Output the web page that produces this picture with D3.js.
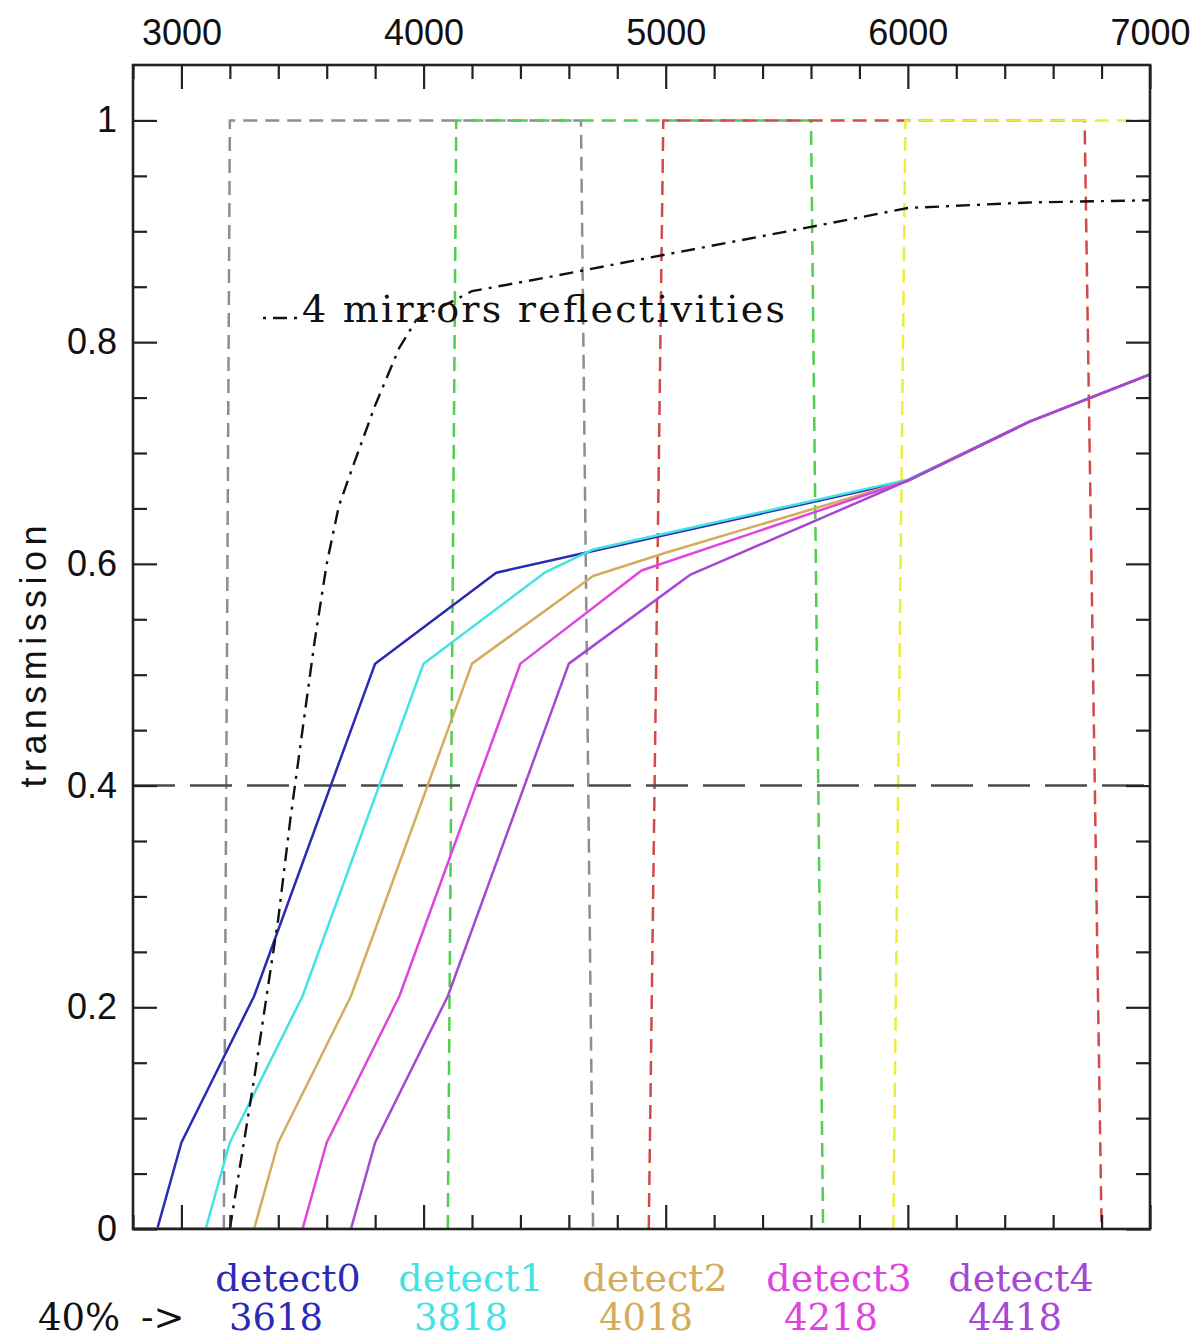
<!DOCTYPE html>
<html>
<head>
<meta charset="utf-8">
<script src="https://cdn.jsdelivr.net/npm/d3@7"></script>
<style>
  html, body { margin: 0; padding: 0; background: #fff; }
  svg { display: block; }
</style>
</head>
<body>
<svg id="chart" width="1198" height="1341"></svg>
<script>
// ---- wavelength axis (Angstrom) ----
const xMajorTicks = [3000, 4000, 5000, 6000, 7000];
const yMajorTicks = [0, 0.2, 0.4, 0.6, 0.8, 1];

// ---- filter bandpasses: wavelength at foot, top, top, foot ----
const filterEdges = [
  [3175, 3200, 4650, 4700],
  [4100, 4135, 5600, 5650],
  [4930, 4990, 6730, 6800],
  [5940, 5990, 7300, 7350]
];
const filterColors = ["#8e8e8e", "#4fcf4f", "#d24a4a", "#eded40"];

// ---- threshold level ----
const threshold = 0.4;

// ---- reflectivity of the 4 mirrors ----
const mirrorWave = [3200, 3300, 3400, 3450, 3500, 3550, 3600, 3650, 3700, 3800, 3900, 3970, 4200, 4500, 5000, 5600, 6000, 6500, 7000];
const mirrorRefl = [0, 0.135, 0.28, 0.37, 0.45, 0.53, 0.60, 0.652, 0.683, 0.743, 0.795, 0.82, 0.846, 0.858, 0.879, 0.904, 0.921, 0.926, 0.928];

// ---- total transmission for each detector ----
const detectNames = ["detect0", "detect1", "detect2", "detect3", "detect4"];
const detectAt40 = ["3618", "3818", "4018", "4218", "4418"];
const detectColors = ["#2a2ab4", "#44e2e2", "#d4ac5c", "#e044e0", "#a448d4"];
const detectWave = [
  [2800, 2900, 3000, 3300, 3800, 4300, 6000, 6500, 7000],
  [2800, 3100, 3200, 3500, 4000, 4500, 4700, 6000, 6500, 7000],
  [2800, 3300, 3400, 3700, 4200, 4700, 5000, 6000, 6500, 7000],
  [2800, 3500, 3600, 3900, 4400, 4900, 6000, 6500, 7000],
  [2800, 3700, 3800, 4100, 4600, 5100, 6000, 6500, 7000]
];
const detectTrans = [
  [0, 0, 0.078, 0.21, 0.51, 0.592, 0.675, 0.728, 0.771],
  [0, 0, 0.078, 0.21, 0.51, 0.592, 0.613, 0.676, 0.728, 0.771],
  [0, 0, 0.078, 0.21, 0.51, 0.589, 0.61, 0.675, 0.728, 0.771],
  [0, 0, 0.078, 0.21, 0.51, 0.594, 0.675, 0.728, 0.771],
  [0, 0, 0.078, 0.21, 0.51, 0.59, 0.675, 0.728, 0.771]
];

// ---- geometry ----
const L = 133, R = 1150, T = 65, B = 1229;
const svg = d3.select("#chart");
const x = d3.scaleLinear().domain([2800, 7000]).range([L, R]);
const y = d3.scaleLinear().domain([0, 1.05]).range([B, T]);

const xMinorTicks = d3.range(2800, 7001, 200).filter(v => v % 1000 !== 0);
const yMinorTicks = d3.range(0, 21).map(i => i * 0.05).filter(v => Math.abs(v * 5 - Math.round(v * 5)) > 1e-6);

const sansFont = "'Liberation Sans', Arial, Helvetica, sans-serif";
const serifFont = "'DejaVu Serif', 'Liberation Serif', serif";

svg.append("defs").append("clipPath").attr("id", "plotClip")
  .append("rect").attr("x", L).attr("y", T).attr("width", R - L).attr("height", B - T);

const plot = svg.append("g").attr("clip-path", "url(#plotClip)");
const line = d3.line().x(d => x(d[0])).y(d => y(d[1]));

// filter boxes
filterEdges.forEach((e, i) => {
  const pts = [[e[0], 0], [e[1], 1], [e[2], 1], [e[3], 0]];
  plot.append("path")
    .attr("d", line(pts))
    .attr("fill", "none")
    .attr("stroke", filterColors[i])
    .attr("stroke-width", 2.5)
    .attr("stroke-dasharray", "14,8");
});

// 40% level
plot.append("path")
  .attr("d", line([[2800, threshold], [7000, threshold]]))
  .attr("fill", "none")
  .attr("stroke", "#4a4a4a")
  .attr("stroke-width", 2.6)
  .attr("stroke-dasharray", "42,15");

// detector transmission curves
detectWave.forEach((w, i) => {
  const pts = w.map((v, j) => [v, detectTrans[i][j]]);
  plot.append("path")
    .attr("d", line(pts))
    .attr("fill", "none")
    .attr("stroke", detectColors[i])
    .attr("stroke-width", 2.5)
    .attr("stroke-linejoin", "round");
});

// mirror reflectivity (dash-dot)
const mirrorDash = "14,7,3,7";
plot.append("path")
  .attr("d", line(mirrorWave.map((v, j) => [v, mirrorRefl[j]])))
  .attr("fill", "none")
  .attr("stroke", "#111")
  .attr("stroke-width", 2.4)
  .attr("stroke-dasharray", mirrorDash);

// curve label with a dash-dot sample
svg.append("line")
  .attr("x1", 263).attr("x2", 297).attr("y1", 318).attr("y2", 318)
  .attr("stroke", "#111").attr("stroke-width", 2.4)
  .attr("stroke-dasharray", "3,7,14,7");
svg.append("text")
  .attr("x", 302).attr("y", 322)
  .attr("font-family", serifFont)
  .attr("font-size", 38)
  .attr("fill", "#111")
  .attr("textLength", 483)
  .attr("lengthAdjust", "spacing")
  .text("4 mirrors reflectivities");

// ---- axes ----
function styleAxis(g) {
  g.select(".domain").remove();
  g.selectAll(".tick line").attr("stroke", "#222").attr("stroke-width", 2.2);
  g.selectAll(".tick text")
    .attr("font-family", sansFont)
    .attr("font-size", 36)
    .attr("fill", "#111");
}
const yFmt = d => (d === 0 ? "0" : d === 1 ? "1" : d3.format(".1f")(d));

svg.append("g").attr("transform", `translate(0,${T})`)
  .call(d3.axisTop(x).tickValues(xMajorTicks).tickSize(-24).tickPadding(20).tickFormat(d3.format("d")))
  .call(styleAxis);
svg.append("g").attr("transform", `translate(0,${T})`)
  .call(d3.axisTop(x).tickValues(xMinorTicks).tickSize(-14).tickFormat(""))
  .call(styleAxis);
svg.append("g").attr("transform", `translate(0,${B})`)
  .call(d3.axisBottom(x).tickValues(xMajorTicks).tickSize(-24).tickFormat(""))
  .call(styleAxis);
svg.append("g").attr("transform", `translate(0,${B})`)
  .call(d3.axisBottom(x).tickValues(xMinorTicks).tickSize(-14).tickFormat(""))
  .call(styleAxis);

svg.append("g").attr("transform", `translate(${L},0)`)
  .call(d3.axisLeft(y).tickValues(yMajorTicks).tickSize(-24).tickPadding(16).tickFormat(yFmt))
  .call(styleAxis);
svg.append("g").attr("transform", `translate(${L},0)`)
  .call(d3.axisLeft(y).tickValues(yMinorTicks).tickSize(-14).tickFormat(""))
  .call(styleAxis);
svg.append("g").attr("transform", `translate(${R},0)`)
  .call(d3.axisRight(y).tickValues(yMajorTicks).tickSize(-24).tickFormat(""))
  .call(styleAxis);
svg.append("g").attr("transform", `translate(${R},0)`)
  .call(d3.axisRight(y).tickValues(yMinorTicks).tickSize(-14).tickFormat(""))
  .call(styleAxis);

// frame
svg.append("rect")
  .attr("x", L).attr("y", T).attr("width", R - L).attr("height", B - T)
  .attr("fill", "none").attr("stroke", "#222").attr("stroke-width", 2.6);

// y axis title
svg.append("text")
  .attr("transform", `translate(46,${(525 + 788) / 2}) rotate(-90)`)
  .attr("text-anchor", "middle")
  .attr("font-family", sansFont)
  .attr("font-size", 36)
  .attr("fill", "#111")
  .attr("textLength", 262)
  .attr("lengthAdjust", "spacing")
  .text("transmission");

// ---- detector legend with 40% wavelengths ----
const nameCenters = [288, 471, 655, 839, 1021];
const valueCenters = [276, 461, 646, 831, 1015];
detectNames.forEach((n, i) => {
  svg.append("text")
    .attr("x", nameCenters[i]).attr("y", 1291)
    .attr("text-anchor", "middle")
    .attr("font-family", serifFont)
    .attr("font-size", 38)
    .attr("fill", detectColors[i])
    .text(n);
  svg.append("text")
    .attr("x", valueCenters[i]).attr("y", 1330)
    .attr("text-anchor", "middle")
    .attr("font-family", serifFont)
    .attr("font-size", 37)
    .attr("fill", detectColors[i])
    .text(detectAt40[i]);
});
svg.append("text")
  .attr("x", 38).attr("y", 1330)
  .attr("font-family", serifFont)
  .attr("font-size", 37)
  .attr("fill", "#111")
  .text("40%");
svg.append("text")
  .attr("x", 141).attr("y", 1330)
  .attr("font-family", serifFont)
  .attr("font-size", 37)
  .attr("fill", "#111")
  .text("->");
</script>
</body>
</html>
